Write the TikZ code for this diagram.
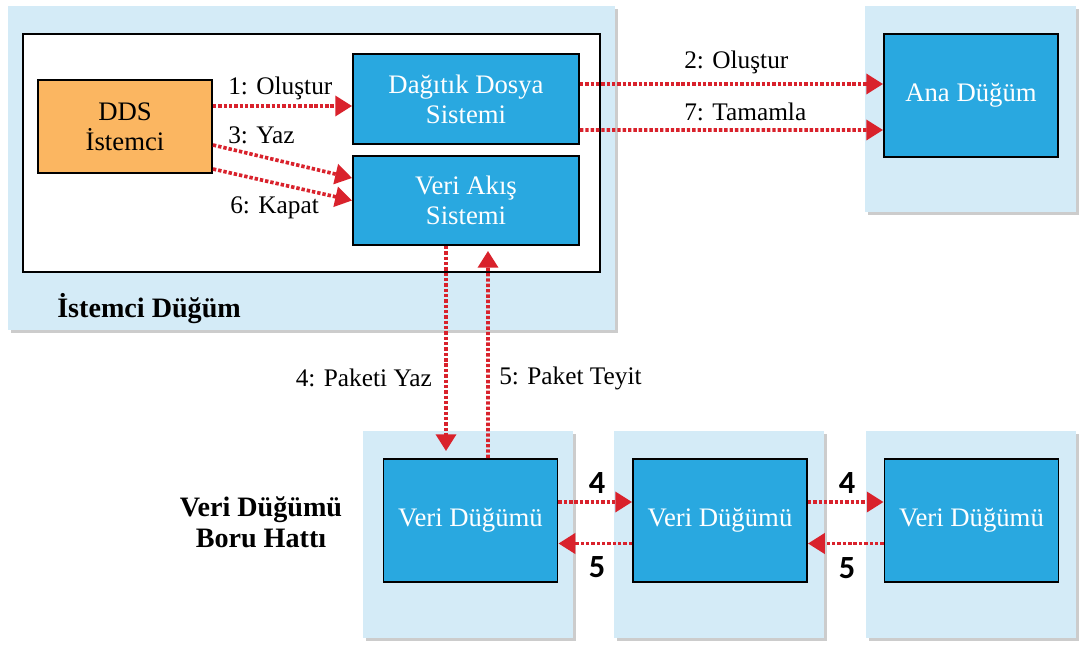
\documentclass[tikz,border=0pt]{standalone}
\usepackage{fontspec}
\setmainfont{Liberation Serif}
\newfontfamily\numfont{Carlito}
\usetikzlibrary{calc,arrows.meta,positioning,shadows}
\definecolor{hostblue}{HTML}{D4EBF7}
\definecolor{procblue}{HTML}{29A8E0}
\definecolor{clientorange}{HTML}{FBB661}
\definecolor{flowred}{HTML}{D9222C}
\tikzset{
  hostbox/.style={fill=hostblue, draw=none, minimum width=5.25cm, minimum height=5.175cm,
    drop shadow={shadow xshift=0.08cm, shadow yshift=-0.08cm, opacity=0.4}},
  block/.style={draw=black, line width=1.3pt, align=center, inner sep=2pt,
    font=\fontsize{19}{21.5}\selectfont},
  procblock/.style={block, fill=procblue, text=white, minimum width=5.65cm},
  nodeblock/.style={procblock, minimum width=4.35cm, minimum height=3.075cm},
  clientblock/.style={block, fill=clientorange, minimum width=4.35cm, minimum height=2.325cm},
  lbl/.style={inner sep=0pt, font=\fontsize{18}{20}\selectfont},
  numlbl/.style={inner sep=0pt, font=\numfont\bfseries\fontsize{23}{25}\selectfont},
  title/.style={inner sep=0pt, align=center, font=\bfseries\fontsize{20}{22}\selectfont},
  flow/.style={-{Triangle[length=0.42cm,width=0.5cm]}, draw=flowred, line width=2.6pt,
    dash pattern=on 2.4pt off 1.4pt}
}
\begin{document}
\begin{tikzpicture}[x=0.025cm, y=0.025cm]
  \useasboundingbox (0,0) rectangle (1083,-644);

  % client side
  \node[hostbox, minimum width=15.175cm, minimum height=8.1cm] (clienthost) at (311.5,-168) {};
  \node[draw=black, line width=1.3pt, fill=white, minimum width=14.425cm,
    minimum height=5.95cm] (clientframe) at (311.5,-153) {};
  \node[clientblock] (ddsc) at (125,-126.5) {DDS\\İstemci};
  \node[procblock, minimum height=2.25cm] (dfs) at (466,-99) {Dağıtık Dosya\\Sistemi};
  \node[procblock, minimum height=2.225cm] (dstream) at (466,-200.5) {Veri Akış\\Sistemi};
  \node[title, anchor=west] (clientlbl) at (57,-309) {İstemci Düğüm};

  % name node
  \node[hostbox, minimum width=5.275cm, minimum height=5.15cm] (namehost) at (970.5,-109) {};
  \node[nodeblock] (namenode) at (971,-95.5) {Ana Düğüm};

  % data node pipeline
  \node[hostbox] (dnhost1) at (468,-534.5) {};
  \node[hostbox] (dnhost2) at (719,-534.5) {};
  \node[hostbox] (dnhost3) at (971,-534.5) {};
  \node[nodeblock] (dn1) at (470.5,-520.5) {Veri Düğümü};
  \node[nodeblock] (dn2) at (720,-520.5) {Veri Düğümü};
  \node[nodeblock] (dn3) at (971.5,-520.5) {Veri Düğümü};
  \node[title] (pipelbl) at (261,-522) {Veri Düğümü\\Boru Hattı};

  % calls
  \draw[flow] ($(ddsc.east)+(0,20.5)$) -- ($(dfs.west)+(0,-7)$);
  \draw[flow] ($(ddsc.east)+(0,-18.5)$) -- ($(dstream.west)+(0,22.5)$);
  \draw[flow] ($(ddsc.east)+(0,-42.5)$) -- (dstream.west);
  \draw[flow] ($(dfs.east)+(0,15)$) -- ($(namenode.west)+(0,11.5)$);
  \draw[flow] ($(dfs.east)+(0,-31)$) -- ($(namenode.west)+(0,-34.5)$);
  \draw[flow] ($(dstream.south)+(-20,0)$) -- ($(dn1.north)+(-24.5,7)$);
  \draw[flow] ($(dn1.north)+(17.5,0)$) -- ($(dstream.south)+(22,-5)$);
  \draw[flow] ($(dn1.east)+(0,18.5)$) -- ($(dn2.west)+(0,18.5)$);
  \draw[flow] ($(dn2.west)+(0,-23)$) -- ($(dn1.east)+(0,-23)$);
  \draw[flow] ($(dn2.east)+(0,18.5)$) -- ($(dn3.west)+(0,18.5)$);
  \draw[flow] ($(dn3.west)+(0,-23)$) -- ($(dn2.east)+(0,-23)$);

  \node[lbl, anchor=west] (l1) at (228,-88) {1: Oluştur};
  \node[lbl, anchor=west] (l3) at (228,-135) {3: Yaz};
  \node[lbl, anchor=west] (l6) at (230,-208) {6: Kapat};
  \node[lbl, anchor=west] (l2) at (684,-62) {2: Oluştur};
  \node[lbl, anchor=west] (l7) at (684,-112) {7: Tamamla};
  \node[lbl, anchor=east] (l4) at (432,-378) {4: Paketi Yaz};
  \node[lbl, anchor=west] (l5) at (499,-378) {5: Paket Teyit};
  \node[numlbl] (n4a) at (597,-483) {4};
  \node[numlbl] (n5a) at (597,-567) {5};
  \node[numlbl] (n4b) at (847,-483) {4};
  \node[numlbl] (n5b) at (847,-568) {5};
\end{tikzpicture}
\end{document}
